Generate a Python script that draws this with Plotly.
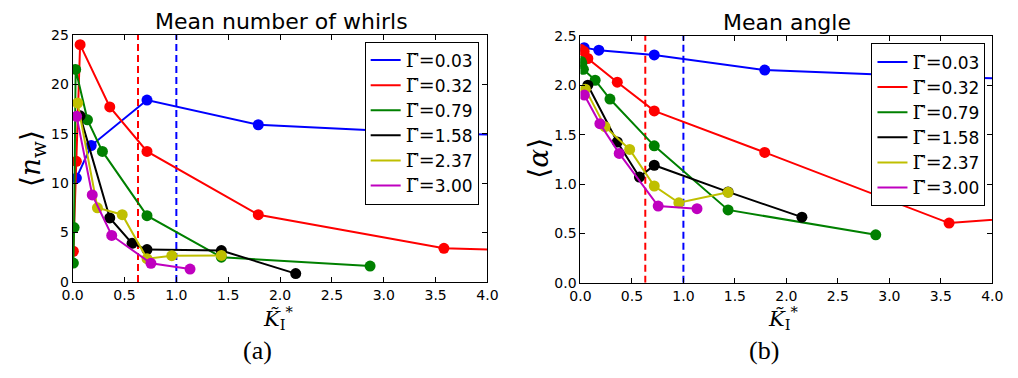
import plotly.graph_objects as go

# Dimensionless inertia parameter K_I* values for each Gamma series
gamma_labels = ["0.03", "0.32", "0.79", "1.58", "2.37", "3.00"]
colors = ["#0000ff", "#ff0000", "#008000", "#000000", "#bfbf00", "#bf00bf"]

k_g003 = [0.036, 0.179, 0.717, 1.79, 3.58, 7.17]
k_g032 = [0.007, 0.036, 0.072, 0.358, 0.717, 1.79, 3.58, 7.17]
k_g079 = [0.007, 0.014, 0.029, 0.143, 0.287, 0.717, 1.434, 2.868]
k_g158 = [0.072, 0.358, 0.573, 0.717, 1.434, 2.151]
k_g237 = [0.048, 0.239, 0.478, 0.717, 0.956, 1.434]
k_g300 = [0.038, 0.189, 0.377, 0.755, 1.132]

# Mean number of whirls <n_w>
nw_g003 = [10.5, 13.8, 18.4, 15.9, 15.0, 14.2]
nw_g032 = [3.1, 12.2, 24.0, 17.7, 13.2, 6.8, 3.4, 2.3]
nw_g079 = [1.9, 5.5, 21.5, 16.4, 13.2, 6.7, 2.5, 1.6]
nw_g158 = [16.8, 6.47, 3.9, 3.27, 3.17, 0.84]
nw_g237 = [18.1, 7.5, 6.8, 2.35, 2.65, 2.68]
nw_g300 = [16.75, 8.8, 4.7, 1.88, 1.3]

# Mean angle <alpha>
al_g003 = [2.38, 2.354, 2.306, 2.153, 2.08, 2.0]
al_g032 = [2.36, 2.34, 2.27, 2.03, 1.74, 1.32, 0.605, 0.89]
al_g079 = [2.24, 2.22, 2.16, 2.05, 1.86, 1.386, 0.738, 0.486]
al_g158 = [2.0, 1.425, 1.07, 1.19, 0.92, 0.665]
al_g237 = [1.96, 1.58, 1.35, 0.98, 0.81, 0.916]
al_g300 = [1.90, 1.61, 1.31, 0.777, 0.75]

# Critical values marked by dashed vertical lines
critical_k = [0.63, 1.0]
critical_colors = ["#ff0000", "#0000ff"]

x_ticks = [0.0, 0.5, 1.0, 1.5, 2.0, 2.5, 3.0, 3.5, 4.0]

k_series = [k_g003, k_g032, k_g079, k_g158, k_g237, k_g300]
nw_series = [nw_g003, nw_g032, nw_g079, nw_g158, nw_g237, nw_g300]
al_series = [al_g003, al_g032, al_g079, al_g158, al_g237, al_g300]

SANS = "DejaVu Sans"
SERIF = "DejaVu Serif"

fig = go.Figure()


def legend_name(g):
    return (f"<span style='font-family:{SERIF};font-size:19px'>Γ̃</span>"
            f"<span style='font-family:{SERIF};font-size:19px'>=</span>"
            f"<span style='font-family:{SANS}'>{g}</span>")


for panel, (ys, xa, ya, leg) in enumerate([(nw_series, "x", "y", "legend"),
                                            (al_series, "x2", "y2", "legend2")]):
    # dashed critical lines
    ymax = 25 if panel == 0 else 2.5
    for kc, cc in zip(critical_k, critical_colors):
        fig.add_trace(go.Scatter(
            x=[kc, kc], y=[0, ymax], xaxis=xa, yaxis=ya, mode="lines",
            line=dict(color=cc, width=2, dash="7px,4px"),
            showlegend=False, hoverinfo="skip"))
    for kx, yv, col, g in zip(k_series, ys, colors, gamma_labels):
        fig.add_trace(go.Scatter(
            x=kx, y=yv, xaxis=xa, yaxis=ya, mode="lines+markers",
            line=dict(color=col, width=2),
            marker=dict(color=col, size=11, line=dict(width=0)),
            showlegend=False))
    # line-only legend entries
    for col, g in zip(colors, gamma_labels):
        fig.add_trace(go.Scatter(
            x=[None], y=[None], xaxis=xa, yaxis=ya, mode="lines",
            line=dict(color=col, width=2), name=legend_name(g),
            legend=leg, showlegend=True))

W, H = 1018, 378


def px_x(p):
    return p / W


def px_y(p):
    return 1 - p / H


axis_common = dict(
    showgrid=False, zeroline=False, showline=True, linecolor="black",
    linewidth=1, mirror="ticks", ticks="inside", ticklen=5, tickwidth=1,
    tickcolor="black", tickfont=dict(family=SANS, size=14, color="black"),
)

legend_common = dict(
    xanchor="right", yanchor="top", bgcolor="white", bordercolor="black",
    borderwidth=1,
    font=dict(family=SANS, size=17, color="black"),
)

fig.update_layout(
    width=W, height=H,
    margin=dict(l=0, r=0, t=0, b=0),
    paper_bgcolor="white", plot_bgcolor="white",
    xaxis=dict(domain=[px_x(63), px_x(487)], range=[0, 4], anchor="y",
               tickvals=x_ticks, tickformat=".1f", **axis_common),
    yaxis=dict(domain=[px_y(286), px_y(28)], range=[0, 25], anchor="x",
               tickvals=[0, 5, 10, 15, 20, 25], **axis_common),
    xaxis2=dict(domain=[px_x(582), px_x(1003)], range=[0, 4], anchor="y2",
                tickvals=x_ticks, tickformat=".1f", **axis_common),
    yaxis2=dict(domain=[px_y(287), px_y(29)], range=[0, 2.5], anchor="x2",
                tickvals=[0, 0.5, 1.0, 1.5, 2.0, 2.5], tickformat=".1f",
                **axis_common),
    legend=dict(x=px_x(478), y=px_y(35), **legend_common),
    legend2=dict(x=px_x(996), y=px_y(37), **legend_common),
    showlegend=True,
)

annotations = [
    dict(text="Mean number of whirls", x=px_x(276), y=px_y(14),
         font=dict(family=SANS, size=22, color="black")),
    dict(text="Mean angle", x=px_x(793), y=px_y(15),
         font=dict(family=SANS, size=22, color="black")),
    dict(text="⟨<i>n</i><sub>w</sub>⟩", x=px_x(22), y=px_y(157), textangle=-90,
         font=dict(family=SERIF, size=28, color="black")),
    dict(text="⟨<i>α</i>⟩", x=px_x(539), y=px_y(157), textangle=-90,
         font=dict(family=SERIF, size=28, color="black")),
    dict(text="<i>K̃</i><sub>I</sub><sup>*</sup>", x=px_x(273), y=px_y(324),
         font=dict(family=SERIF, size=21, color="black")),
    dict(text="<i>K̃</i><sub>I</sub><sup>*</sup>", x=px_x(790), y=px_y(324),
         font=dict(family=SERIF, size=21, color="black")),
    dict(text="(a)", x=px_x(252), y=px_y(358),
         font=dict(family="Liberation Serif", size=26, color="black")),
    dict(text="(b)", x=px_x(770), y=px_y(358),
         font=dict(family="Liberation Serif", size=26, color="black")),
]
for a in annotations:
    a.update(xref="paper", yref="paper", showarrow=False,
             xanchor="center", yanchor="middle")
fig.update_layout(annotations=annotations)

fig.write_html("out.html")
